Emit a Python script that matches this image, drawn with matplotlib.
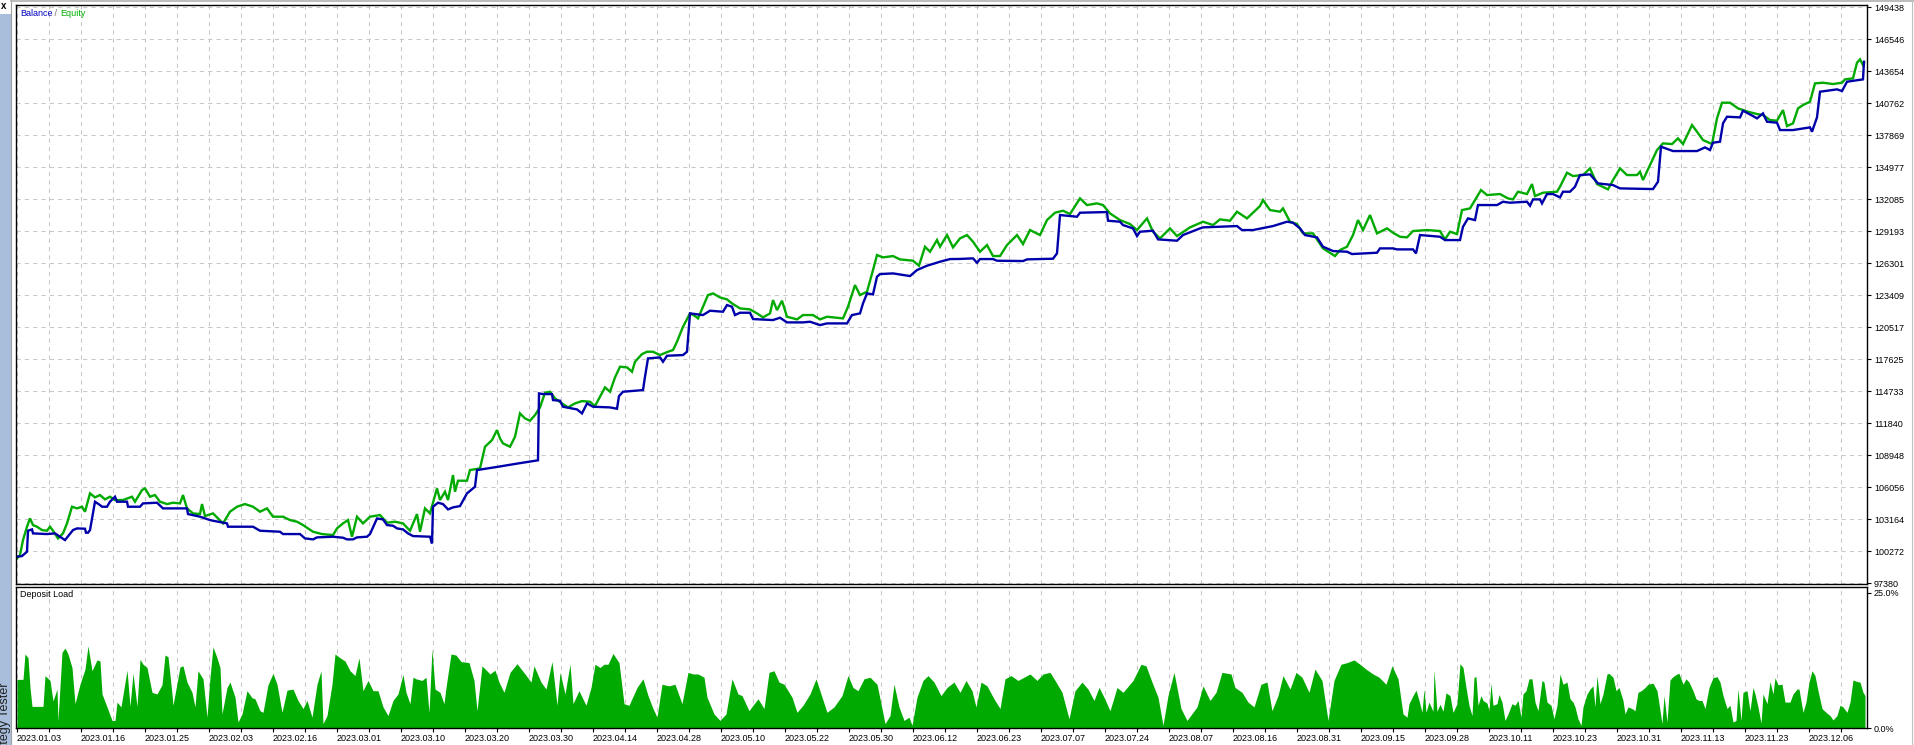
"""
Strategy tester report: balance / equity curve with deposit load below.
"""
import numpy as np
import matplotlib
matplotlib.use('Agg')
import matplotlib.pyplot as plt
from matplotlib.lines import Line2D
from matplotlib.patches import Rectangle

plt.rcParams['font.family'] = ['Liberation Sans', 'DejaVu Sans']

dates = ['2023.01.03', '2023.01.16', '2023.01.25', '2023.02.03', '2023.02.16',
         '2023.03.01', '2023.03.10', '2023.03.20', '2023.03.30', '2023.04.14',
         '2023.04.28', '2023.05.10', '2023.05.22', '2023.05.30', '2023.06.12',
         '2023.06.23', '2023.07.07', '2023.07.24', '2023.08.07', '2023.08.16',
         '2023.08.31', '2023.09.15', '2023.09.28', '2023.10.11', '2023.10.23',
         '2023.10.31', '2023.11.13', '2023.11.23', '2023.12.06']

value_ticks = [97380, 100272, 103164, 106056, 108948, 111840, 114733, 117625,
               120517, 123409, 126301, 129193, 132085, 134977, 137869, 140762,
               143654, 146546, 149438]

# balance: (bar index, value)
bal_t = [0, 5, 10, 11, 15, 16, 30, 38, 48, 56, 60, 68, 69, 71, 73, 78, 83, 85, 90, 93,
         98, 100, 110, 111, 123, 126, 140, 146, 170, 171, 183, 193, 196, 210, 211, 236,
         243, 263, 266, 283, 288, 296, 300, 316, 326, 330, 336, 340, 350, 353, 360, 366,
         370, 376, 380, 386, 391, 396, 413, 415, 416, 421, 426, 431, 436, 443, 450, 458,
         460, 480, 500, 521, 522, 526, 535, 536, 543, 546, 560, 565, 570, 576, 593, 600,
         602, 606, 626, 628, 631, 643, 646, 650, 666, 670, 673, 686, 693, 706, 710, 715,
         718, 723, 733, 736, 756, 763, 770, 786, 793, 803, 810, 830, 835, 843, 846, 850,
         856, 860, 863, 876, 893, 900, 910, 923, 933, 943, 956, 960, 963, 976, 980, 1006,
         1010, 1036, 1040, 1043, 1060, 1063, 1090, 1091, 1103, 1106, 1116, 1120, 1123,
         1136, 1141, 1160, 1166, 1183, 1186, 1220, 1225, 1236, 1256, 1270, 1276, 1283,
         1288, 1300, 1306, 1316, 1330, 1335, 1360, 1363, 1376, 1380, 1396, 1399, 1403,
         1423, 1428, 1443, 1446, 1451, 1458, 1461, 1480, 1486, 1493, 1510, 1513, 1516,
         1523, 1525, 1530, 1536, 1543, 1546, 1553, 1558, 1563, 1573, 1581, 1596, 1603,
         1636, 1641, 1644, 1656, 1680, 1688, 1693, 1696, 1703, 1706, 1710, 1723, 1726,
         1736, 1740, 1746, 1750, 1760, 1763, 1776, 1793, 1795, 1800, 1803, 1820, 1825,
         1830, 1846, 1847]
bal_v = [99784, 99845, 100236, 102134, 102256, 101894, 101834, 101894, 101291, 102195,
         102345, 102315, 101954, 101954, 102195, 104757, 104455, 104304, 104304, 104757,
         105209, 104757, 104757, 104304, 104304, 104605, 104666, 104154, 104154, 103642,
         103402, 103100, 103039, 102798, 102497, 102497, 102134, 102044, 101834, 101834,
         101442, 101352, 101532, 101593, 101502, 101352, 101352, 101532, 101593, 101834,
         103243, 103160, 102647, 102587, 102345, 102256, 101894, 101653, 101593, 100990,
         104304, 104666, 104545, 104063, 104244, 104364, 105510, 106112, 107619, 107900,
         108200, 108500, 114546, 114486, 114486, 113943, 113883, 113341, 113100, 112738,
         113642, 113341, 113281, 113160, 114305, 114697, 114847, 116053, 117710, 117800,
         117408, 117950, 118011, 118312, 121777, 121627, 122018, 121928, 122530, 122380,
         121627, 121837, 121837, 121265, 121175, 121385, 120964, 120964, 121024, 120722,
         120873, 120873, 121627, 121777, 122681, 123585, 123494, 125092, 125332, 125392,
         125152, 125694, 126086, 126447, 126688, 126700, 126749, 126357, 126689, 126689,
         126538, 126508, 126659, 126719, 127200, 130666, 130515, 130877, 130937, 130153,
         130063, 129762, 129460, 128768, 129159, 129250, 128467, 128346, 128858, 129460,
         129551, 129671, 129310, 129310, 129671, 130063, 129973, 129460, 128858, 128647,
         127803, 127412, 127351, 127141, 127261, 127653, 127653, 127562, 127562, 127200,
         128858, 128706, 128405, 128405, 129610, 130363, 130213, 131569, 131569, 131870,
         131780, 131870, 131508, 132081, 132081, 131720, 132563, 132563, 132262, 132774,
         132774, 133226, 134281, 134341, 133527, 133377, 133075, 133015, 133678, 136842,
         136450, 136450, 136781, 136540, 137203, 137294, 138950, 139553, 139493, 140095,
         139613, 139403, 139855, 139101, 139011, 138348, 138348, 138589, 138197, 139493,
         141813, 142024, 141873, 142717, 142928, 144525]

# equity: (bar index, value)
eq_t = [0, 3, 6, 10, 13, 16, 20, 25, 30, 33, 36, 41, 46, 50, 55, 60, 65, 68, 73, 78, 83,
        88, 93, 98, 106, 115, 118, 125, 128, 133, 138, 143, 150, 156, 163, 166, 170, 176,
        183, 185, 188, 196, 201, 206, 213, 220, 228, 236, 243, 250, 256, 266, 273, 280,
        286, 296, 305, 316, 320, 326, 331, 335, 340, 346, 353, 363, 370, 378, 386, 393,
        400, 403, 408, 413, 420, 423, 428, 431, 436, 438, 441, 450, 453, 463, 468, 475,
        480, 483, 486, 493, 498, 503, 508, 513, 518, 523, 528, 533, 538, 545, 551, 558,
        565, 573, 578, 583, 588, 593, 598, 603, 610, 615, 618, 625, 630, 636, 643, 651,
        656, 660, 666, 673, 678, 681, 686, 691, 696, 703, 710, 715, 723, 733, 740, 746,
        753, 756, 760, 765, 770, 780, 786, 796, 803, 810, 820, 826, 831, 838, 843, 850,
        856, 860, 866, 876, 883, 896, 902, 908, 913, 920, 923, 930, 936, 943, 950, 956,
        963, 970, 976, 983, 990, 1000, 1006, 1013, 1023, 1030, 1038, 1046, 1053, 1063,
        1070, 1080, 1086, 1093, 1103, 1113, 1120, 1130, 1136, 1143, 1153, 1160, 1173,
        1186, 1196, 1203, 1213, 1220, 1230, 1243, 1246, 1253, 1263, 1266, 1273, 1280,
        1286, 1296, 1306, 1318, 1323, 1330, 1336, 1341, 1346, 1353, 1360, 1370, 1376,
        1383, 1390, 1396, 1410, 1423, 1428, 1433, 1440, 1445, 1453, 1458, 1464, 1470,
        1483, 1491, 1496, 1501, 1510, 1515, 1518, 1526, 1540, 1543, 1550, 1556, 1566,
        1573, 1580, 1591, 1596, 1603, 1610, 1620, 1623, 1626, 1633, 1640, 1646, 1655,
        1661, 1666, 1675, 1680, 1686, 1695, 1700, 1705, 1713, 1721, 1731, 1740, 1746,
        1753, 1760, 1766, 1770, 1776, 1781, 1786, 1793, 1798, 1806, 1816, 1825, 1828,
        1836, 1840, 1843, 1846, 1847]
eq_v = [99634, 99935, 101291, 102497, 103250, 102647, 102497, 102195, 102134, 102497,
        102134, 101442, 101894, 102798, 104304, 104154, 104304, 103852, 105510, 105148,
        105359, 104967, 105209, 104907, 104907, 105209, 104757, 105811, 105962, 105209,
        105359, 104757, 104545, 104666, 104605, 105359, 104154, 103702, 103642, 104545,
        103462, 103702, 103250, 102798, 103852, 104304, 104545, 104304, 103852, 104154,
        103402, 103402, 103100, 102949, 102647, 102044, 101834, 101743, 102345, 102798,
        103100, 101593, 103402, 102798, 103402, 103552, 102858, 102949, 102798, 102134,
        103642, 102044, 104154, 103702, 105962, 104907, 105661, 104907, 107167, 105661,
        106655, 106655, 107619, 107770, 109725, 110327, 111232, 110479, 110027, 109725,
        110629, 112738, 112286, 112075, 112587, 113281, 114607, 114697, 114094, 113642,
        113281, 113642, 113853, 113793, 113401, 114245, 115088, 114697, 115992, 116956,
        116896, 116504, 117408, 118101, 118312, 118312, 118011, 118312, 118463, 119216,
        120572, 121777, 121536, 121325, 122380, 123434, 123585, 123223, 123042, 122681,
        122229, 122139, 121777, 121415, 121777, 122982, 122078, 122922, 121476, 121235,
        121627, 121627, 121235, 121476, 121385, 121325, 122380, 124338, 123434, 123736,
        125694, 127050, 126839, 126960, 126658, 126538, 126086, 127803, 127351, 128406,
        127803, 128858, 127743, 128557, 128858, 128255, 127351, 127954, 126960, 126960,
        127954, 128858, 128044, 129310, 128858, 130214, 130877, 131058, 130756, 132172,
        131569, 131720, 131569, 130816, 130214, 129852, 129310, 130364, 129159, 128557,
        129460, 128768, 129551, 130063, 129762, 130274, 130153, 130967, 130364, 131479,
        132022, 131118, 130967, 131268, 130063, 129852, 129008, 129008, 127653, 126960,
        127502, 127803, 128858, 130214, 129310, 130666, 129008, 129460, 129069, 128707,
        128647, 129219, 129310, 129218, 128465, 129158, 128947, 131117, 131267, 132021,
        132925, 132473, 132563, 132172, 132081, 132774, 132563, 133467, 132382, 132684,
        132774, 133226, 134491, 134190, 134281, 134883, 133467, 132985, 133829, 134883,
        134281, 134281, 134582, 133829, 135184, 136540, 137143, 137082, 137594, 137082,
        138800, 138197, 137444, 137082, 139403, 140819, 140819, 140307, 140005, 139794,
        139704, 139252, 139192, 140156, 138710, 138950, 140307, 140608, 140910, 142566,
        142627, 142506, 142627, 142928, 143018, 144434, 144735, 144223, 144434]

# deposit load, %: (bar index, load)
load_t = [0, 6, 8, 11, 13, 15, 26, 28, 33, 36, 40, 41, 45, 48, 51, 55, 58, 63, 68, 71, 75,
          80, 83, 85, 90, 95, 98, 100, 104, 110, 113, 116, 120, 123, 126, 130, 135, 140,
          145, 148, 151, 155, 156, 163, 166, 170, 175, 178, 181, 186, 190, 193, 196, 200,
          203, 205, 210, 213, 218, 221, 225, 230, 235, 238, 243, 246, 251, 256, 260, 265,
          270, 276, 281, 286, 290, 295, 300, 304, 306, 310, 315, 318, 323, 328, 333, 338,
          342, 346, 351, 356, 361, 366, 371, 376, 381, 386, 389, 393, 396, 399, 405, 409,
          412, 415, 418, 423, 427, 429, 434, 439, 444, 452, 457, 460, 465, 473, 478, 482,
          487, 493, 500, 508, 514, 517, 524, 529, 535, 540, 543, 548, 553, 556, 562, 569,
          574, 578, 583, 587, 591, 596, 602, 607, 612, 620, 626, 631, 636, 640, 645, 652,
          658, 665, 671, 676, 681, 687, 690, 697, 703, 709, 715, 721, 725, 732, 736, 741,
          747, 752, 757, 762, 767, 775, 780, 786, 793, 799, 805, 810, 817, 825, 831, 836,
          841, 847, 853, 860, 864, 868, 873, 877, 882, 887, 892, 895, 900, 906, 911, 917,
          924, 930, 937, 943, 949, 955, 959, 964, 970, 977, 983, 988, 994, 1001, 1007,
          1013, 1020, 1026, 1033, 1039, 1045, 1052, 1058, 1065, 1071, 1077, 1082, 1087,
          1093, 1100, 1106, 1116, 1124, 1129, 1135, 1141, 1146, 1151, 1157, 1164, 1170,
          1180, 1186, 1193, 1199, 1205, 1214, 1218, 1225, 1231, 1237, 1244, 1250, 1255,
          1261, 1266, 1273, 1279, 1285, 1292, 1298, 1305, 1311, 1317, 1324, 1330, 1337,
          1343, 1349, 1356, 1362, 1369, 1375, 1381, 1386, 1390, 1392, 1396, 1399, 1402,
          1405, 1407, 1409, 1412, 1416, 1417, 1420, 1423, 1426, 1429, 1433, 1436, 1440,
          1443, 1446, 1449, 1452, 1455, 1457, 1459, 1461, 1464, 1466, 1470, 1472, 1474,
          1476, 1480, 1482, 1485, 1488, 1491, 1495, 1498, 1501, 1504, 1506, 1509, 1512,
          1515, 1518, 1521, 1525, 1527, 1530, 1534, 1537, 1540, 1543, 1546, 1550, 1553,
          1556, 1558, 1561, 1564, 1566, 1570, 1573, 1576, 1578, 1580, 1583, 1586, 1590,
          1592, 1596, 1599, 1602, 1606, 1608, 1611, 1615, 1618, 1621, 1625, 1628, 1631,
          1636, 1640, 1642, 1645, 1647, 1650, 1653, 1656, 1660, 1662, 1666, 1669, 1672,
          1676, 1679, 1682, 1685, 1688, 1692, 1696, 1700, 1703, 1706, 1710, 1713, 1716,
          1719, 1721, 1724, 1726, 1730, 1733, 1736, 1738, 1741, 1744, 1746, 1750, 1753,
          1756, 1758, 1761, 1765, 1768, 1773, 1776, 1780, 1782, 1786, 1789, 1792, 1795,
          1798, 1801, 1805, 1809, 1813, 1816, 1820, 1823, 1826, 1830, 1833, 1836, 1840,
          1843, 1846, 1848]
load_v = [9.0, 9.0, 13.7, 13.0, 7.5, 4.0, 4.0, 9.7, 8.8, 5.0, 7.2, 1.4, 14.0, 14.8, 13.7,
          11.2, 4.5, 8.1, 10.9, 15.2, 10.6, 12.6, 12.4, 6.3, 3.9, 1.4, 1.4, 4.8, 3.9, 10.7,
          4.0, 10.1, 4.0, 12.7, 11.8, 11.2, 6.6, 6.3, 8.0, 13.5, 13.2, 6.3, 4.2, 11.3, 11.5,
          8.5, 6.6, 3.9, 10.6, 9.1, 2.0, 9.4, 15.0, 13.0, 11.2, 2.6, 7.5, 8.5, 5.7, 1.1,
          2.6, 6.9, 5.6, 5.4, 3.2, 2.9, 8.0, 10.1, 8.1, 2.9, 7.0, 7.2, 5.1, 3.6, 5.1, 2.0,
          8.1, 10.6, 0.8, 2.3, 8.1, 13.7, 13.0, 12.4, 10.6, 9.7, 13.0, 6.9, 8.8, 6.9, 6.9,
          3.9, 2.3, 5.1, 6.3, 9.9, 6.6, 4.5, 9.4, 9.1, 8.8, 9.4, 2.9, 14.6, 7.2, 6.6, 4.5,
          7.5, 13.7, 13.5, 12.3, 12.1, 8.8, 3.2, 11.5, 10.0, 10.7, 8.5, 6.6, 10.3, 11.9,
          10.0, 8.5, 11.5, 8.5, 7.2, 12.3, 4.2, 10.3, 6.3, 11.8, 4.5, 6.9, 4.2, 7.5, 11.8,
          11.2, 11.8, 11.8, 13.8, 12.1, 4.5, 4.2, 7.5, 9.1, 6.0, 3.6, 2.0, 8.1, 7.8, 8.1,
          4.5, 10.3, 10.0, 10.0, 9.4, 5.7, 2.6, 1.4, 2.6, 9.1, 6.3, 6.0, 3.2, 4.2, 5.4, 3.6,
          10.3, 10.6, 8.5, 8.1, 5.7, 2.9, 4.2, 6.3, 9.1, 5.7, 2.9, 3.9, 6.0, 9.7, 7.5, 6.9,
          9.1, 9.4, 8.1, 4.5, 0.8, 2.3, 8.1, 3.9, 1.4, 2.0, 0.5, 5.7, 8.8, 9.7, 8.5, 6.0,
          7.5, 8.5, 6.6, 8.8, 6.9, 3.9, 8.5, 7.8, 5.4, 3.6, 9.1, 9.7, 8.8, 9.4, 10.0, 8.8,
          10.0, 10.3, 8.5, 6.6, 1.7, 6.9, 8.5, 7.2, 5.1, 7.5, 5.7, 3.2, 7.5, 6.6, 8.8, 11.8,
          11.5, 8.5, 5.7, 0.5, 6.0, 10.3, 3.6, 1.4, 3.9, 7.8, 5.1, 6.6, 10.3, 10.0, 7.5,
          6.6, 4.8, 3.9, 8.1, 8.5, 3.2, 6.0, 9.7, 7.2, 10.3, 9.4, 6.6, 10.9, 8.8, 1.4, 8.8,
          11.8, 12.1, 12.6, 11.8, 10.9, 10.0, 9.4, 8.1, 11.5, 9.1, 2.6, 2.0, 4.5, 6.0, 7.0,
          5.1, 2.9, 7.2, 2.9, 4.8, 3.1, 10.7, 3.1, 4.4, 3.1, 6.5, 6.0, 2.9, 4.5, 11.9, 11.2,
          7.5, 4.2, 2.3, 9.4, 9.5, 4.2, 6.0, 5.1, 4.6, 3.2, 8.3, 4.2, 4.5, 6.2, 4.8, 1.4,
          2.6, 4.5, 4.2, 5.1, 2.0, 6.3, 6.9, 9.1, 9.1, 4.8, 3.2, 8.8, 8.5, 4.8, 4.2, 1.7,
          4.2, 10.0, 8.1, 8.5, 5.4, 4.8, 3.9, 1.7, 0.5, 3.9, 6.3, 7.2, 7.8, 3.9, 9.7, 4.5,
          6.3, 10.0, 10.1, 9.4, 6.9, 7.5, 5.1, 2.6, 3.9, 3.6, 3.2, 6.6, 7.0, 7.5, 8.1, 8.3,
          6.9, 4.5, 0.8, 6.0, 1.1, 8.9, 9.5, 10.0, 10.1, 8.1, 9.1, 8.5, 6.9, 5.4, 5.1, 5.1,
          3.6, 7.5, 9.3, 9.5, 8.5, 6.0, 3.6, 4.2, 1.1, 1.4, 7.2, 1.4, 6.6, 6.9, 3.2, 7.5,
          6.3, 3.9, 0.9, 6.3, 4.5, 8.6, 6.3, 9.3, 8.0, 8.1, 4.8, 4.8, 6.3, 7.2, 7.2, 2.9,
          4.8, 8.5, 10.6, 9.7, 6.9, 3.6, 2.9, 2.3, 1.5, 2.3, 4.2, 3.9, 2.9, 4.8, 8.9, 8.6,
          8.5, 6.6, 6.0]

W, H = 1915, 745


def box(left, top, right, bottom):
    return [left / W, 1 - bottom / H, (right - left) / W, (bottom - top) / H]


fig = plt.figure(figsize=(W / 100, H / 100), dpi=100)
fig.patch.set_facecolor('white')

ax = fig.add_axes(box(16, 5, 1867, 584))
ax2 = fig.add_axes(box(16, 587, 1867, 728), sharex=ax)

grid_kw = dict(color='#c8c8c8', linestyle=(0, (4, 4)), linewidth=0.75)
xt = np.arange(0, 1849, 32)

ax.plot(eq_t, eq_v, color='#00aa00', lw=1.7, solid_joinstyle='miter')
ax.plot(bal_t, bal_v, color='#0000aa', lw=1.7, solid_joinstyle='miter')
ax.set_xlim(-1, 1850)
ax.set_ylim(97320, 149650)
ax.set_yticks(value_ticks)
ax.set_yticklabels([str(v) for v in value_ticks])
ax.yaxis.tick_right()
ax.set_xticks(xt)
ax.tick_params(axis='x', bottom=False, labelbottom=False)
ax.tick_params(axis='y', length=3, width=0.8, pad=2, labelsize=6.5)
ax.grid(True, **grid_kw)
ax.set_axisbelow(True)

ax2.fill_between(load_t, load_v, 0, color='#00aa00', lw=0)
ax2.set_ylim(0, 26.1)
ax2.set_yticks([0, 25])
ax2.set_yticklabels(['0.0%', '25.0%'])
ax2.yaxis.tick_right()
ax2.set_xticks(xt)
ax2.set_xticklabels([dates[k // 2] if k % 2 == 0 else '' for k in range(len(xt))])
for lab in ax2.get_xticklabels():
    lab.set_ha('left')
ax2.tick_params(axis='y', length=3, width=0.8, pad=2, labelsize=6.5)
ax2.tick_params(axis='x', length=3, width=0.8, pad=1, labelsize=6.5)
ax2.grid(True, axis='x', **grid_kw)
ax2.set_axisbelow(True)

for a in (ax, ax2):
    for s in a.spines.values():
        s.set_linewidth(1.0)
        s.set_color('black')

t1 = ax.annotate('Balance', xy=(0, 1), xycoords='axes fraction', xytext=(4, -4),
                 textcoords='offset pixels', ha='left', va='top', fontsize=6.5, color='#0000c0')
t2 = ax.annotate(' / ', xy=(1, 0), xycoords=t1, ha='left', va='bottom',
                 fontsize=6.5, color='#707070')
ax.annotate('Equity', xy=(1, 0), xycoords=t2, ha='left', va='bottom',
            fontsize=6.5, color='#00b000')
ax2.annotate('Deposit Load', xy=(0, 1), xycoords='axes fraction', xytext=(4, -3),
             textcoords='offset pixels', ha='left', va='top', fontsize=6.5, color='black')

# window chrome on the left
fig.add_artist(Rectangle((0, 0), 10.5 / W, (H - 14) / H, transform=fig.transFigure,
                         facecolor='#a8bedb', edgecolor='none'))
fig.add_artist(Line2D([11.5 / W, 11.5 / W], [0, 1], transform=fig.transFigure,
                      color='#a0a0a0', lw=0.8))
fig.add_artist(Line2D([11.5 / W, 1], [1 - 1 / H, 1 - 1 / H], transform=fig.transFigure,
                      color='#b0b0b0', lw=1.2))
fig.add_artist(Line2D([1912 / W, 1912 / W], [0, 1], transform=fig.transFigure,
                      color='#c0c0c0', lw=0.8))
fig.text(1 / W, 1 - 6 / H, 'x', fontsize=7, fontweight='bold', va='center', ha='left')
# the side tab label runs past the bottom edge, as in the tester window
fig.text(5 / W, -22 / H, 'Strategy Tester', rotation=90, ha='center', va='bottom',
         fontsize=9, color='#202020')

fig.savefig('out.png', dpi=100)
